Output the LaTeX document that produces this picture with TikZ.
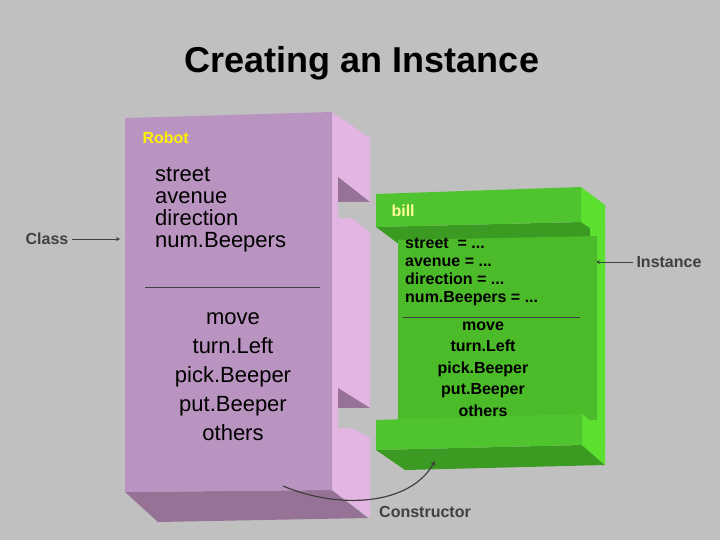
\documentclass[tikz,border=0pt]{standalone}
\usepackage{fontspec}
\setmainfont{Liberation Sans}
\definecolor{bgray}{HTML}{C0C0C0}
\definecolor{pfront}{HTML}{BA94C0}
\definecolor{pside}{HTML}{E3B5E3}
\definecolor{pdark}{HTML}{967396}
\definecolor{gfront}{HTML}{4CBB2A}
\definecolor{gtop}{HTML}{50C42E}
\definecolor{gside}{HTML}{5BE030}
\definecolor{gdark}{HTML}{3A9A22}
\definecolor{txtgray}{HTML}{404040}
\tikzset{
  fsize/.style={font=\fontsize{#1}{#1}\selectfont},
  label/.style={fsize=16, font=\bfseries\fontsize{16}{16}\selectfont, text=txtgray},
  pointer/.style={-stealth, txtgray, thick}
}
\begin{document}
\begin{tikzpicture}[x=1pt, y=-1pt]
  \fill[bgray] (0,0) rectangle (720,540);
  \useasboundingbox (0,0) rectangle (720,540);

  % class block
  \fill[pdark] (125,492) -- (332,490) -- (368,518) -- (158,522) -- cycle;
  \fill[pside] (332,112) -- (370,138) -- (370,518) -- (332,490) -- cycle;
  \fill[pdark] (338,177) -- (370,202) -- (338,202) -- cycle;
  \fill[bgray] (338,202) -- (370,202) -- (370,232) -- (352,218) -- (338,218) -- cycle;
  \fill[pdark] (338,388) -- (370,408) -- (338,408) -- cycle;
  \fill[bgray] (338,408) -- (370,408) -- (370,438) -- (352,428) -- (338,428) -- cycle;
  \fill[pfront] (125,118) -- (332,112) -- (332,490) -- (125,492) -- cycle;

  \node[anchor=west, text=yellow, fsize=16, font=\bfseries\fontsize{16}{16}\selectfont] (robot) at (139,138) {Robot};
  \node[anchor=north west, align=left, fsize=22, inner sep=0pt] (fields) at (155,167)
    {street\\avenue\\direction\\num.Beepers};
  \draw[txtgray, thick] (145,287) -- (320,287);
  \node[align=center, fsize=22, font=\fontsize{22}{29}\selectfont, inner sep=0pt] (methods) at (233,377)
    {move\\turn.Left\\pick.Beeper\\put.Beeper\\others};

  % instance block
  \fill[gdark] (376,227) -- (582,222) -- (605,238) -- (400,245) -- cycle;
  \fill[gside] (590,222) -- (605,232) -- (605,440) -- (590,440) -- cycle;
  \fill[gfront] (398,240) -- (597,236) -- (597,420) -- (398,422) -- cycle;
  \fill[gdark] (376,450) -- (582,445) -- (605,465) -- (405,470) -- cycle;
  \fill[gside] (582,414) -- (605,433) -- (605,465) -- (582,445) -- cycle;
  \fill[gtop] (376,420) -- (582,414) -- (582,445) -- (376,450) -- cycle;
  \fill[gside] (581,187) -- (605,205) -- (605,238) -- (581,222) -- cycle;
  \fill[gtop] (376,194) -- (581,187) -- (581,222) -- (376,227) -- cycle;

  \node[anchor=west, text=yellow!40!white, font=\bfseries\fontsize{16}{16}\selectfont] (bill) at (388,211) {bill};
  \node[anchor=north west, align=left, inner sep=0pt, font=\bfseries\fontsize{16}{18}\selectfont] (values) at (405,238)
    {street~~= ...\\avenue = ...\\direction = ...\\num.Beepers = ...};
  \draw[txtgray, thick] (403,317) -- (580,317);
  \node[align=center, inner sep=0pt, font=\bfseries\fontsize{16}{21.5}\selectfont] (calls) at (483,369)
    {move\\turn.Left\\pick.Beeper\\put.Beeper\\others};

  % title and labels
  \node[font=\bfseries\fontsize{36}{36}\selectfont] (title) at (362,63) {Creating an Instance};
  \node[label] (class) at (47,239) {Class};
  \coordinate (classtip) at (120,239);
  \draw[pointer] (class.east) -- (classtip);
  \node[label] (instance) at (669,262) {Instance};
  \coordinate (insttip) at (596,262);
  \draw[pointer] (instance.west) -- (insttip);
  \node[label] (ctor) at (425,512) {Constructor};
  \coordinate (ctorfrom) at (283,486);
  \coordinate (ctorto) at (435,461);
  \draw[pointer, line width=1.2pt] (ctorfrom) .. controls (340,510) and (410,505) .. (ctorto);
\end{tikzpicture}
\end{document}
